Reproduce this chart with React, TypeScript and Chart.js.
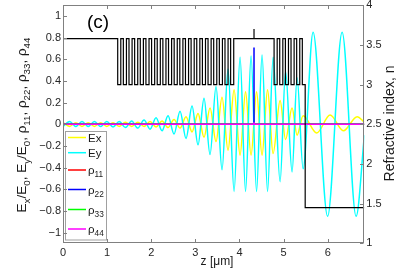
import React, { useEffect, useRef } from 'react';
import { Chart, registerables } from 'chart.js';

Chart.register(...registerables);

const W = 411;
const H = 272;
const FONT = '"Liberation Sans", Arial, Helvetica, sans-serif';

// ---- Data (z in micrometres) ----
// Ey/E0 : extrema
const eyZ = [0, 0.15, 0.29, 0.431, 0.571, 0.712, 0.853, 0.993, 1.134, 1.274, 1.415, 1.556, 1.696, 1.837, 1.973, 2.109, 2.245, 2.381, 2.517, 2.653, 2.789, 2.925, 3.061, 3.197, 3.333, 3.469, 3.605, 3.741, 3.878, 4.014, 4.138, 4.263, 4.388, 4.512, 4.637, 4.762, 4.921, 5.045, 5.193, 5.306, 5.442, 5.669, 5.998, 6.327, 6.644, 6.832];
const eyVal = [-0.02, 0.025, -0.02, 0.025, -0.02, 0.025, -0.02, 0.025, -0.025, 0.025, -0.03, 0.03, -0.035, 0.04, -0.045, 0.06, -0.06, 0.08, -0.09, 0.12, -0.13, 0.17, -0.19, 0.24, -0.28, 0.35, -0.42, 0.51, -0.62, 0.62, -0.62, 0.63, -0.62, 0.64, -0.62, 0.62, -0.53, 0.49, -0.44, 0.43, -0.41, 0.85, -0.85, 0.85, -0.85, -0.1];

// Ex/E0 : extrema
const exZ = [0, 0.15, 0.29, 0.431, 0.571, 0.712, 0.853, 0.993, 1.134, 1.274, 1.415, 1.556, 1.696, 1.837, 1.973, 2.109, 2.245, 2.381, 2.517, 2.653, 2.789, 2.925, 3.061, 3.197, 3.333, 3.469, 3.605, 3.741, 3.878, 4.014, 4.138, 4.263, 4.388, 4.512, 4.637, 4.762, 4.921, 5.045, 5.193, 5.306, 5.442, 5.753, 6.054, 6.356, 6.667, 6.832];
const exVal = [0.015, -0.02, 0.015, -0.02, 0.015, -0.02, 0.015, -0.02, 0.015, -0.02, 0.02, -0.02, 0.02, -0.02, 0.025, -0.025, 0.03, -0.03, 0.045, -0.035, 0.07, -0.07, 0.1, -0.12, 0.15, -0.16, 0.25, -0.24, 0.32, -0.285, 0.3, -0.285, 0.3, -0.285, 0.32, -0.27, 0.22, -0.14, 0.15, -0.1, 0.08, -0.08, 0.085, -0.06, 0.07, 0.02];

// density-matrix elements at the dot position
const rhoZ = [0, 4.33, 4.33, 4.33, 6.83];
const rho11 = [0, 0, 0, 0, 0];
const rho22 = [0, 0, 0.71, 0, 0];
const rho33 = [0, 0, 0, 0, 0];
const rho44 = [0, 0, 0.02, 0, 0];

// refractive index profile: z where each step starts, and its index
const profileZ = [0, 1.24, 1.31, 1.368, 1.438, 1.496, 1.566, 1.624, 1.694, 1.752, 1.822, 1.88, 1.95, 2.008, 2.078, 2.136, 2.206, 2.264, 2.334, 2.392, 2.462, 2.52, 2.59, 2.648, 2.718, 2.776, 2.846, 2.904, 2.974, 3.032, 3.102, 3.16, 3.23, 3.288, 3.358, 3.416, 3.486, 3.544, 3.614, 3.672, 3.742, 3.8, 3.87, 4.33, 4.33, 4.785, 4.855, 4.913, 4.983, 5.041, 5.111, 5.169, 5.239, 5.297, 5.367, 5.425, 5.49, 6.83];
const profileN = [3.58, 3.0, 3.58, 3.0, 3.58, 3.0, 3.58, 3.0, 3.58, 3.0, 3.58, 3.0, 3.58, 3.0, 3.58, 3.0, 3.58, 3.0, 3.58, 3.0, 3.58, 3.0, 3.58, 3.0, 3.58, 3.0, 3.58, 3.0, 3.58, 3.0, 3.58, 3.0, 3.58, 3.0, 3.58, 3.0, 3.58, 3.0, 3.58, 3.0, 3.58, 3.0, 3.58, 3.7, 3.58, 3.0, 3.58, 3.0, 3.58, 3.0, 3.58, 3.0, 3.58, 3.0, 3.58, 3.0, 1.45, 1.45];

const xTicks = [0, 1, 2, 3, 4, 5, 6];
const leftTicks = [-1, -0.8, -0.6, -0.4, -0.2, 0, 0.2, 0.4, 0.6, 0.8, 1];
const leftTickLabels = ['\u22121', '\u22120.8', '\u22120.6', '\u22120.4', '\u22120.2', '0', '0.2', '0.4', '0.6', '0.8', '1'];
const rightTicks = [1, 1.5, 2, 2.5, 3, 3.5, 4];
const rightTickLabels = ['1', '1.5', '2', '2.5', '3', '3.5', '4'];

const pts = (xs: number[], ys: number[]) => xs.map((x, i) => ({ x, y: ys[i] }));

type Part = [string, boolean];

function drawRich(ctx: CanvasRenderingContext2D, parts: Part[], x: number, y: number, size: number, draw = true): number {
  let cx = x;
  for (const [t, sub] of parts) {
    const s = sub ? size * 0.72 : size;
    ctx.font = `${s}px ${FONT}`;
    if (draw) ctx.fillText(t, cx, sub ? y + size * 0.3 : y);
    cx += ctx.measureText(t).width;
  }
  return cx - x;
}

const legendItems: { color: string; parts: Part[] }[] = [
  { color: '#ffff00', parts: [['Ex', false]] },
  { color: '#00ffff', parts: [['Ey', false]] },
  { color: '#ff0000', parts: [['\u03c1', false], ['11', true]] },
  { color: '#0000ff', parts: [['\u03c1', false], ['22', true]] },
  { color: '#00ff00', parts: [['\u03c1', false], ['33', true]] },
  { color: '#ff00ff', parts: [['\u03c1', false], ['44', true]] },
];
const legendRows = [137.5, 152.7, 170, 189.5, 209.5, 229];

const leftTitle: Part[] = [
  ['E', false], ['x', true], ['/E', false], ['0', true], [', E', false], ['y', true], ['/E', false], ['0', true],
  [', \u03c1', false], ['11', true], [', \u03c1', false], ['22', true], [', \u03c1', false], ['33', true], [', \u03c1', false], ['44', true],
];

const decor = {
  id: 'decor',
  afterDatasetsDraw(chart: any) {
    const { ctx, chartArea: a, scales } = chart;
    ctx.save();
    // legend
    ctx.fillStyle = '#ffffff';
    ctx.fillRect(65, 131.5, 41, 108.5);
    ctx.strokeStyle = '#a0a0a0';
    ctx.lineWidth = 1;
    ctx.strokeRect(65.5, 131.5, 41, 108.5);
    legendItems.forEach((it, i) => {
      const yc = legendRows[i];
      ctx.strokeStyle = it.color;
      ctx.lineWidth = 1.5;
      ctx.beginPath();
      ctx.moveTo(68, yc);
      ctx.lineTo(86, yc);
      ctx.stroke();
      ctx.fillStyle = '#1a1a1a';
      ctx.textBaseline = 'alphabetic';
      ctx.textAlign = 'left';
      drawRich(ctx, it.parts, 88, yc + 4, 11.5);
    });

    // axes box and inward ticks
    ctx.strokeStyle = '#808080';
    ctx.lineWidth = 1;
    const L = Math.round(a.left) + 0.5, R = Math.round(a.right) - 0.5;
    const T = Math.round(a.top) + 0.5, B = Math.round(a.bottom) - 0.5;
    ctx.strokeRect(L, T, R - L, B - T);
    ctx.beginPath();
    const tl = 3.5;
    for (const v of xTicks) {
      const px = Math.round(scales.x.getPixelForValue(v)) + 0.5;
      ctx.moveTo(px, B); ctx.lineTo(px, B - tl);
      ctx.moveTo(px, T); ctx.lineTo(px, T + tl);
    }
    for (const v of leftTicks) {
      const py = Math.round(scales.y.getPixelForValue(v)) + 0.5;
      ctx.moveTo(L, py); ctx.lineTo(L + tl, py);
    }
    for (const v of rightTicks) {
      const py = Math.round(scales.yR.getPixelForValue(v)) + 0.5;
      ctx.moveTo(R, py); ctx.lineTo(R - tl, py);
    }
    ctx.stroke();

    // panel label
    ctx.fillStyle = '#000';
    ctx.font = `19px ${FONT}`;
    ctx.textAlign = 'left';
    ctx.textBaseline = 'alphabetic';
    ctx.fillText('(c)', 87, 28);

    // left title
    ctx.fillStyle = '#1a1a1a';
    ctx.save();
    ctx.translate(26, 125);
    ctx.rotate(-Math.PI / 2);
    const w = drawRich(ctx, leftTitle, 0, 0, 13.5, false);
    drawRich(ctx, leftTitle, -w / 2, 0, 13.5);
    ctx.restore();

    // right title
    ctx.save();
    ctx.translate(394, 123.5);
    ctx.rotate(-Math.PI / 2);
    ctx.font = `14px ${FONT}`;
    ctx.textAlign = 'center';
    ctx.fillText('Refractive index, n', 0, 0);
    ctx.restore();

    // x title
    ctx.font = `12px ${FONT}`;
    ctx.textAlign = 'center';
    ctx.fillText('z [\u03bcm]', 217, 265);
    ctx.restore();
  },
};

const tickFont = { family: FONT, size: 11 };

export default function App() {
  const ref = useRef<HTMLCanvasElement | null>(null);
  useEffect(() => {
    if (!ref.current) return;
    const chart = new Chart(ref.current, {
      type: 'line',
      data: {
        datasets: [
          { label: 'n', data: pts(profileZ, profileN), yAxisID: 'yR', borderColor: '#000000', borderWidth: 1.2, stepped: true, pointRadius: 0 },
          { label: 'rho44', data: pts(rhoZ, rho44), yAxisID: 'y', borderColor: '#ff00ff', borderWidth: 1.6, pointRadius: 0 },
          { label: 'rho33', data: pts(rhoZ, rho33), yAxisID: 'y', borderColor: '#00ff00', borderWidth: 1.5, pointRadius: 0 },
          { label: 'rho22', data: pts(rhoZ, rho22), yAxisID: 'y', borderColor: '#0000ff', borderWidth: 1.5, pointRadius: 0 },
          { label: 'rho11', data: pts(rhoZ, rho11), yAxisID: 'y', borderColor: '#ff0000', borderWidth: 1.5, pointRadius: 0 },
          { label: 'Ey', data: pts(eyZ, eyVal), yAxisID: 'y', borderColor: '#00ffff', borderWidth: 1.5, pointRadius: 0, cubicInterpolationMode: 'monotone' },
          { label: 'Ex', data: pts(exZ, exVal), yAxisID: 'y', borderColor: '#ffff00', borderWidth: 1.5, pointRadius: 0, cubicInterpolationMode: 'monotone' },
        ],
      },
      options: {
        responsive: false,
        animation: false,
        devicePixelRatio: 1,
        layout: { padding: { top: 5.2, left: 0, right: 0, bottom: 0 } },
        plugins: { legend: { display: false }, tooltip: { enabled: false } },
        scales: {
          x: {
            type: 'linear',
            min: 0,
            max: 6.83,
            afterBuildTicks: (ax: any) => { ax.ticks = xTicks.map((v) => ({ value: v })); },
            ticks: { padding: 3, font: tickFont, color: '#262626', maxRotation: 0, autoSkip: false, callback: (v: any) => String(v) },
            grid: { display: false, drawTicks: false },
            border: { display: false },
            afterFit: (s: any) => { s.height = H - 243.4; s.paddingLeft = 0; s.paddingRight = 0; },
          },
          y: {
            type: 'linear',
            position: 'left',
            min: -1.1,
            max: 1.1,
            afterBuildTicks: (ax: any) => { ax.ticks = leftTicks.map((v) => ({ value: v })); },
            ticks: { padding: 2, font: tickFont, color: '#262626', autoSkip: false, callback: (_v: any, i: number) => leftTickLabels[i] },
            grid: { display: false, drawTicks: false },
            border: { display: false },
            afterFit: (s: any) => { s.width = 63; s.paddingTop = 0; s.paddingBottom = 0; },
          },
          yR: {
            type: 'linear',
            position: 'right',
            min: 1,
            max: 4,
            afterBuildTicks: (ax: any) => { ax.ticks = rightTicks.map((v) => ({ value: v })); },
            ticks: { padding: 2, font: tickFont, color: '#262626', autoSkip: false, callback: (_v: any, i: number) => rightTickLabels[i] },
            grid: { display: false, drawTicks: false },
            border: { display: false },
            afterFit: (s: any) => { s.width = W - 364.3; s.paddingTop = 0; s.paddingBottom = 0; },
          },
        },
      },
      plugins: [decor],
    } as any);
    return () => chart.destroy();
  }, []);

  return (
    <div style={{ position: 'fixed', left: 0, top: 0, width: W, height: H, background: '#ffffff' }}>
      <canvas ref={ref} width={W} height={H} style={{ display: 'block', width: W, height: H }} />
    </div>
  );
}
